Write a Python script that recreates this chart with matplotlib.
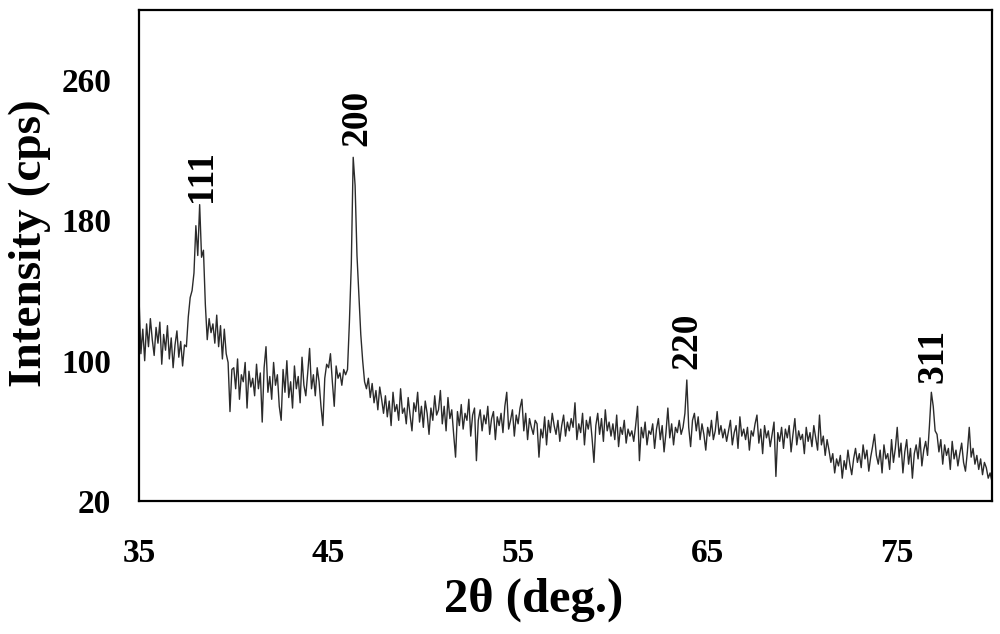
import numpy as np
import matplotlib
matplotlib.use("Agg")
import matplotlib.pyplot as plt

# 2-theta grid: 35.0 .. 80.0 step 0.1
two_theta_start = 35.0
two_theta_step = 0.1

intensity = [
    # 35
    136, 104, 118, 100, 121, 108, 124, 112, 103, 119,
    # 36
    110, 122, 98, 115, 106, 120, 101, 113, 96, 109,
    # 37
    117, 102, 111, 97, 109, 108, 125, 136, 140, 150,
    # 38
    177, 160, 189, 159, 163, 132, 112, 124, 116, 121,
    # 39
    110, 126, 108, 120, 101, 118, 104, 99, 71, 95,
    # 40
    96, 84, 101, 78, 92, 88, 99, 73, 94, 85,
    # 41
    90, 80, 98, 84, 93, 65, 96, 108, 82, 91,
    # 42
    78, 99, 86, 92, 74, 66, 95, 82, 100, 79,
    # 43
    88, 73, 97, 84, 91, 76, 102, 86, 80, 93,
    # 44
    107, 84, 92, 80, 96, 88, 74, 63, 90, 98,
    # 45
    96, 104, 88, 74, 97, 90, 93, 86, 95, 92,
    # 46
    95, 122, 155, 216, 200, 160, 138, 115, 100, 88,
    # 47
    84, 90, 79, 87, 76, 83, 72, 85, 78, 70,
    # 48
    80, 68, 77, 63, 82, 71, 75, 66, 84, 70,
    # 49
    73, 64, 79, 69, 60, 76, 71, 82, 65, 74,
    # 50
    62, 77, 70, 58, 73, 66, 80, 69, 72, 83,
    # 51
    64, 74, 60, 79, 67, 72, 58, 45, 71, 63,
    # 52
    75, 61, 70, 66, 78, 57, 69, 73, 43, 66,
    # 53
    72, 60, 69, 64, 74, 58, 67, 71, 55, 68,
    # 54
    63, 70, 59, 74, 82, 61, 66, 72, 57, 69,
    # 55
    64, 73, 78, 60, 70, 55, 67, 62, 58, 66,
    # 56
    64, 45, 61, 56, 68, 52, 66, 59, 70, 63,
    # 57
    58, 66, 54, 63, 69, 57, 65, 60, 67, 62,
    # 58
    76, 55, 64, 59, 70, 52, 66, 61, 68, 56,
    # 59
    42, 63, 70, 58, 67, 54, 72, 60, 65, 57,
    # 60
    64, 55, 69, 51, 62, 58, 66, 53, 61, 57,
    # 61
    60, 54, 63, 74, 43, 62, 56, 65, 52, 60,
    # 62
    58, 64, 50, 61, 67, 55, 63, 48, 59, 73,
    # 63
    56, 64, 52, 62, 59, 66, 58, 62, 70, 89,
    # 64
    62, 51, 66, 70, 60, 68, 55, 64, 58, 49,
    # 65
    62, 57, 66, 55, 60, 71, 58, 63, 56, 61,
    # 66
    54, 60, 66, 52, 59, 63, 50, 68, 57, 61,
    # 67
    55, 62, 49, 60, 57, 64, 69, 53, 61, 47,
    # 68
    63, 56, 60, 51, 58, 65, 34, 59, 54, 62,
    # 69
    50, 61, 56, 63, 48, 58, 67, 52, 60, 55,
    # 70
    58, 47, 62, 54, 59, 51, 63, 56, 49, 69,
    # 71
    52, 57, 46, 55, 49, 42, 47, 36, 44, 40,
    # 72
    46, 33, 43, 38, 49, 41, 35, 44, 50, 42,
    # 73
    47, 39, 52, 44, 49, 37, 45, 51, 58, 46,
    # 74
    41, 49, 36, 52, 44, 47, 38, 55, 42, 50,
    # 75
    62, 45, 53, 36, 48, 55, 41, 50, 33, 47,
    # 76
    52, 44, 56, 40, 49, 54, 46, 63, 82, 74,
    # 77
    60, 58, 48, 55, 41, 52, 46, 50, 38, 54,
    # 78
    44, 49, 40, 47, 53, 42, 37, 48, 62, 45,
    # 79
    50, 41, 46, 38, 44, 35, 42, 39, 33, 36,
    # 80
    31,
]

peak_labels = ["111", "200", "220", "311"]
peak_2theta = [38.3, 46.5, 63.9, 76.9]
peak_heights = [189, 216, 89, 82]
label_gap_pt = [2, 8, 8, 7]

x_ticks = [35, 45, 55, 65, 75]
y_ticks = [20, 100, 180, 260]

two_theta = two_theta_start + two_theta_step * np.arange(len(intensity))

plt.rcParams["font.family"] = ["Liberation Serif", "DejaVu Serif"]
plt.rcParams["font.weight"] = "bold"

fig = plt.figure(figsize=(10, 6.34), dpi=100)
ax = fig.add_axes([0.139, 0.2098, 0.853, 0.7744])

ax.plot(two_theta, intensity, color="#2b2b2b", linewidth=1.0)

ax.set_xlim(35, 80)
ax.set_ylim(20, 300)
ax.set_xticks(x_ticks)
ax.set_yticks(y_ticks)
ax.set_xticklabels([str(t) for t in x_ticks], fontsize=24, fontweight="bold")
ax.set_yticklabels([str(t) for t in y_ticks], fontsize=24, fontweight="bold")
ax.tick_params(axis="both", length=0)
ax.tick_params(axis="x", pad=27)
ax.tick_params(axis="y", pad=20)

for s in ax.spines.values():
    s.set_linewidth(1.6)
    s.set_color("black")

for lab, px, ph, gap in zip(peak_labels, peak_2theta, peak_heights, label_gap_pt):
    ax.annotate(lab, xy=(px, ph), xytext=(0, gap), textcoords="offset points",
                rotation=90, ha="center", va="bottom",
                fontsize=27, fontweight="bold")

ax.set_xlabel("2θ (deg.)", fontsize=35, fontweight="bold")
ax.set_ylabel("Intensity (cps)", fontsize=34, fontweight="bold")
ax.xaxis.label.set_va("center")
ax.yaxis.label.set_va("center")
ax.xaxis.set_label_coords(0.463, -0.2016)
ax.yaxis.set_label_coords(-0.1278, 0.525)

fig.savefig("out.png", dpi=100)
